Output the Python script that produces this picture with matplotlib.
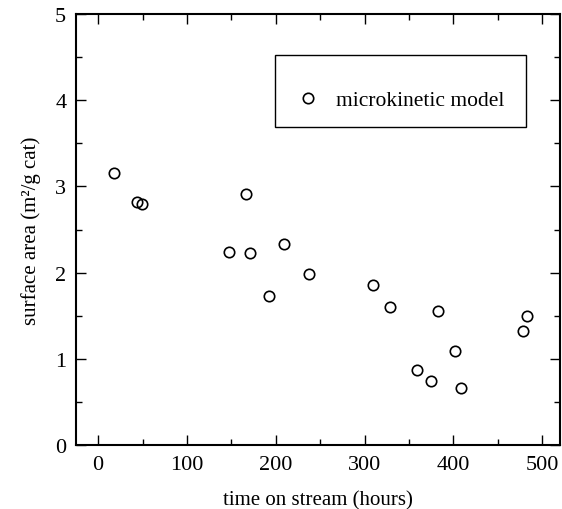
import matplotlib
matplotlib.use("Agg")
import matplotlib.pyplot as plt
from matplotlib.patches import Rectangle
from matplotlib.ticker import MultipleLocator

# time on stream (hours) and surface area (m2/g cat)
hours = [17.7, 44.2, 49.1, 166.9, 147.3, 171.4, 208.9, 192.0, 237.0,
         309.3, 329.2, 382.4, 402.3, 358.8, 375.4, 408.7, 478.0, 483.3]
area = [3.15, 2.82, 2.80, 2.91, 2.24, 2.23, 2.33, 1.73, 1.98,
        1.86, 1.60, 1.55, 1.09, 0.87, 0.74, 0.66, 1.32, 1.50]

plt.rcParams['font.family'] = ['Liberation Serif', 'DejaVu Serif']

fig = plt.figure(figsize=(5.62, 5.10), dpi=100)
ax = fig.add_axes([0.1352, 0.1255, 0.861, 0.845])

ax.plot(hours, area, 'o', mfc='none', mec='black', mew=1.2, ms=7.5,
        label='microkinetic model')

ax.set_xlim(-25, 520)
ax.set_ylim(0, 5)
ax.xaxis.set_major_locator(MultipleLocator(100))
ax.xaxis.set_minor_locator(MultipleLocator(50))
ax.yaxis.set_major_locator(MultipleLocator(1))
ax.yaxis.set_minor_locator(MultipleLocator(0.5))
ax.tick_params(which='both', direction='in', top=True, right=True,
               labelsize=16, width=1.0)
ax.tick_params(which='major', length=7, pad=7)
ax.tick_params(which='minor', length=4)
for s in ax.spines.values():
    s.set_linewidth(1.5)

ax.set_xlabel('time on stream (hours)', fontsize=15, labelpad=12)
ax.set_ylabel('surface area (m²/g cat)', fontsize=15, labelpad=10)

# legend box: the entry sits a bit below the middle of the frame
ax.add_patch(Rectangle((0.411, 0.738), 0.519, 0.167, transform=ax.transAxes,
                       fill=False, edgecolor='black', lw=1.0, zorder=3))
leg = ax.legend(loc='center left', bbox_to_anchor=(0.466, 0.800), fontsize=15.5,
                frameon=False, borderpad=0, handlelength=0.6,
                handletextpad=1.0, borderaxespad=0)

fig.savefig('out.png', dpi=100)
